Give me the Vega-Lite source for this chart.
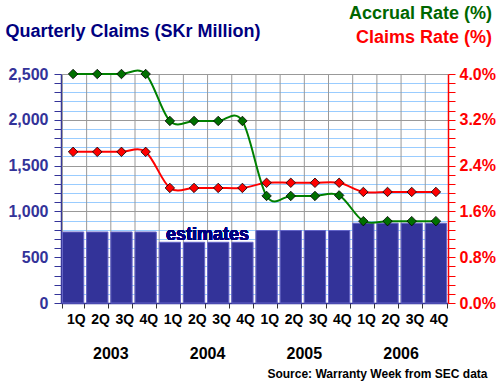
{
  "$schema": "https://vega.github.io/schema/vega-lite/v6.json",
  "width": 387,
  "height": 229,
  "autosize": "none",
  "padding": {"left": 61, "top": 74, "right": 52, "bottom": 82},
  "background": "white",
  "config": {"view": {"stroke": null}, "font": "Liberation Sans"},
  "title": {
    "text": "Accrual Rate (%)",
    "subtitle": "Claims Rate (%)",
    "anchor": "end",
    "frame": "group",
    "font": "Liberation Sans",
    "fontSize": 18,
    "fontWeight": "bold",
    "color": "#006600",
    "subtitleFont": "Liberation Sans",
    "subtitleFontSize": 18,
    "subtitleFontWeight": "bold",
    "subtitleColor": "#ff0000",
    "subtitlePadding": 6,
    "dx": 44,
    "offset": -25
  },
  "data": {
    "values": [
      {"q": "2003 1Q", "year": "2003", "qtr": "1Q", "claims": 775, "accrual": 0.04, "crate": 0.0264},
      {"q": "2003 2Q", "year": "2003", "qtr": "2Q", "claims": 775, "accrual": 0.04, "crate": 0.0264},
      {"q": "2003 3Q", "year": "2003", "qtr": "3Q", "claims": 775, "accrual": 0.04, "crate": 0.0264},
      {"q": "2003 4Q", "year": "2003", "qtr": "4Q", "claims": 775, "accrual": 0.04, "crate": 0.0264},
      {"q": "2004 1Q", "year": "2004", "qtr": "1Q", "claims": 663, "accrual": 0.0318, "crate": 0.0201},
      {"q": "2004 2Q", "year": "2004", "qtr": "2Q", "claims": 663, "accrual": 0.0318, "crate": 0.0201},
      {"q": "2004 3Q", "year": "2004", "qtr": "3Q", "claims": 663, "accrual": 0.0318, "crate": 0.0201},
      {"q": "2004 4Q", "year": "2004", "qtr": "4Q", "claims": 663, "accrual": 0.0318, "crate": 0.0201},
      {"q": "2005 1Q", "year": "2005", "qtr": "1Q", "claims": 791, "accrual": 0.0187, "crate": 0.021},
      {"q": "2005 2Q", "year": "2005", "qtr": "2Q", "claims": 791, "accrual": 0.0187, "crate": 0.021},
      {"q": "2005 3Q", "year": "2005", "qtr": "3Q", "claims": 791, "accrual": 0.0187, "crate": 0.021},
      {"q": "2005 4Q", "year": "2005", "qtr": "4Q", "claims": 791, "accrual": 0.0188, "crate": 0.021},
      {"q": "2006 1Q", "year": "2006", "qtr": "1Q", "claims": 871, "accrual": 0.0143, "crate": 0.0194},
      {"q": "2006 2Q", "year": "2006", "qtr": "2Q", "claims": 871, "accrual": 0.0143, "crate": 0.0194},
      {"q": "2006 3Q", "year": "2006", "qtr": "3Q", "claims": 871, "accrual": 0.0143, "crate": 0.0194},
      {"q": "2006 4Q", "year": "2006", "qtr": "4Q", "claims": 871, "accrual": 0.0143, "crate": 0.0194}
    ]
  },
  "layer": [
    {
      "layer": [
        {
          "mark": {"type": "rule", "color": "#999999", "strokeWidth": 1},
          "encoding": {
            "x": {"field": "q", "type": "nominal", "sort": null, "bandPosition": 0}
          }
        },
        {
          "mark": {"type": "bar", "color": "#333399", "stroke": "#6464c8", "strokeWidth": 1},
          "encoding": {
            "x": {
              "field": "q", "type": "nominal", "sort": null,
              "scale": {"paddingInner": 0.12, "paddingOuter": 0.06},
              "axis": {
                "labelExpr": "slice(datum.label, 5)",
                "labelAngle": 0,
                "labelFont": "Liberation Sans",
                "labelFontSize": 14,
                "labelFontWeight": "bold",
                "labelColor": "#000000",
                "labelOverlap": false,
                "labelFlush": false,
                "labelPadding": 11,
                "labelOffset": 12.1,
                "tickBand": "extent",
                "tickColor": "#333333",
                "tickSize": 5,
                "domainColor": "#333399",
                "domainWidth": 1.5,
                "grid": false,
                "title": "Source: Warranty Week from SEC data",
                "titleFont": "Liberation Sans",
                "titleFontSize": 12,
                "titleFontWeight": "bold",
                "titleColor": "#000000",
                "titleAlign": "right",
                "titleBaseline": "alphabetic",
                "titleX": 426,
                "titleY": 74
              }
            },
            "y": {
              "field": "claims", "type": "quantitative",
              "scale": {"domain": [0, 2500], "nice": false},
              "axis": {
                "values": [0,100,200,300,400,500,600,700,800,900,1000,1100,1200,1300,1400,1500,1600,1700,1800,1900,2000,2100,2200,2300,2400,2500],
                "tickCount": 40,
                "labelExpr": "datum.value % 500 === 0 ? format(datum.value, ',') : ''",
                "labelOverlap": false,
                "labelFont": "Liberation Sans",
                "labelFontSize": 16,
                "labelFontWeight": "bold",
                "labelColor": "#333399",
                "labelPadding": 6,
                "tickColor": "#333399",
                "tickSize": 7,
                "domainColor": "#333399",
                "domainWidth": 1.5,
                "grid": true,
                "gridColor": {"condition": {"test": "datum.value % 500 === 0", "value": "#999999"}, "value": "#99ccff"},
                "gridWidth": 1,
                "title": "Quarterly Claims (SKr Million)",
                "titleFont": "Liberation Sans",
                "titleFontSize": 18,
                "titleFontWeight": "bold",
                "titleColor": "#000080",
                "titleAngle": 0,
                "titleAlign": "left",
                "titleBaseline": "alphabetic",
                "titleX": -56,
                "titleY": -38
              }
            }
          }
        },
        {
          "mark": {"type": "text", "font": "Liberation Sans", "fontSize": 18, "fontWeight": "bold", "color": "#000080", "align": "center", "baseline": "alphabetic"},
          "encoding": {
            "x": {"datum": "2004 3Q", "type": "nominal", "bandPosition": 0},
            "y": {"datum": 685, "type": "quantitative", "scale": {"domain": [0, 2500], "nice": false}},
            "text": {"value": "estimates"}
          }
        },
        {
          "transform": [{"filter": "datum.qtr === '3Q'"}],
          "mark": {"type": "text", "font": "Liberation Sans", "fontSize": 16, "fontWeight": "bold", "color": "#000000", "align": "center", "baseline": "alphabetic"},
          "encoding": {
            "x": {"field": "q", "type": "nominal", "sort": null, "bandPosition": 0},
            "y": {"datum": -608, "type": "quantitative", "scale": {"domain": [0, 2500], "nice": false}},
            "text": {"field": "year"}
          }
        }
      ]
    },
    {
      "transform": [{"fold": ["crate", "accrual"], "as": ["series", "rate"]}],
      "layer": [
        {
          "mark": {"type": "line", "interpolate": "cardinal", "strokeWidth": 2},
          "encoding": {
            "x": {"field": "q", "type": "nominal", "sort": null},
            "y": {
              "field": "rate", "type": "quantitative",
              "scale": {"domain": [0, 0.04], "nice": false},
              "axis": {
                "orient": "right",
                "values": [0,0.0016,0.0032,0.0048,0.0064,0.008,0.0096,0.0112,0.0128,0.0144,0.016,0.0176,0.0192,0.0208,0.0224,0.024,0.0256,0.0272,0.0288,0.0304,0.032,0.0336,0.0352,0.0368,0.0384,0.04],
                "tickCount": 40,
                "labelExpr": "round(datum.value * 1250) % 10 === 0 ? format(datum.value, '.1%') : ''",
                "labelOverlap": false,
                "labelFont": "Liberation Sans",
                "labelFontSize": 16,
                "labelFontWeight": "bold",
                "labelColor": "#ff0000",
                "labelPadding": 4,
                "tickColor": "#ff0000",
                "tickSize": 7,
                "domainColor": "#ff0000",
                "domainWidth": 1.5,
                "grid": false,
                "title": null
              }
            },
            "color": {"field": "series", "type": "nominal", "scale": {"domain": ["crate", "accrual"], "range": ["#ff0000", "#008000"]}, "legend": null}
          }
        },
        {
          "mark": {"type": "point", "shape": "diamond", "filled": true, "size": 90, "stroke": "#000000", "strokeWidth": 0.8, "opacity": 1},
          "encoding": {
            "x": {"field": "q", "type": "nominal", "sort": null},
            "y": {"field": "rate", "type": "quantitative"},
            "fill": {"field": "series", "type": "nominal", "scale": {"domain": ["crate", "accrual"], "range": ["#ff0000", "#007000"]}, "legend": null}
          }
        }
      ]
    }
  ],
  "resolve": {"scale": {"y": "independent"}}
}
